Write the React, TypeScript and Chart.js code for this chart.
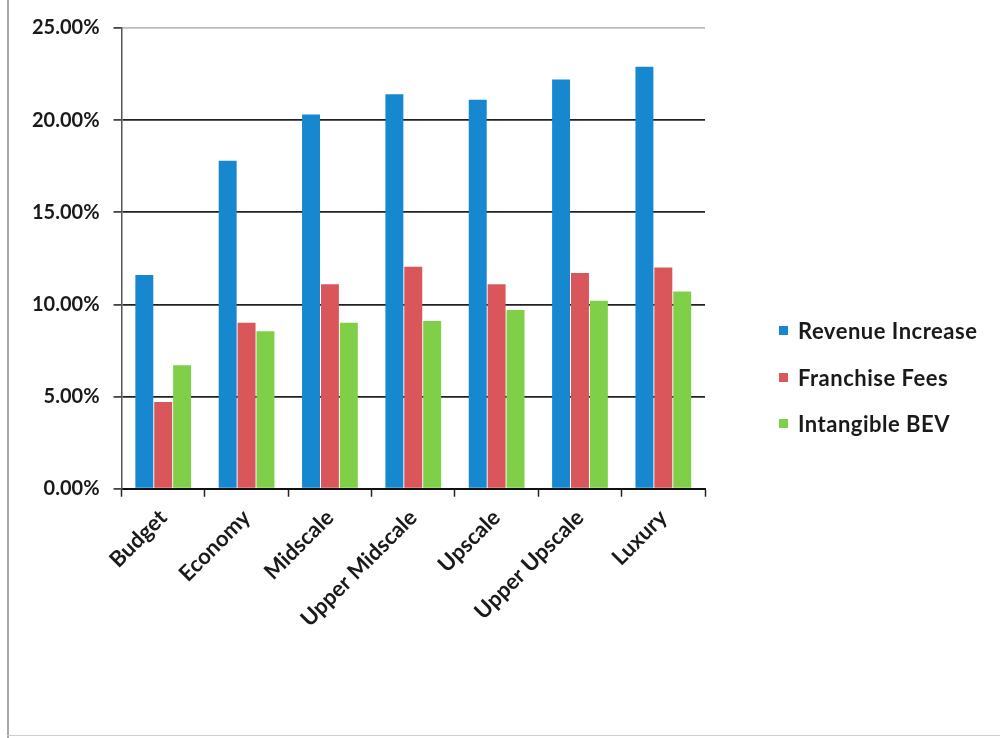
import React, { useEffect, useRef } from "react";
import { Chart, registerables } from "chart.js";

Chart.register(...registerables);

const categories = ["Budget", "Economy", "Midscale", "Upper Midscale", "Upscale", "Upper Upscale", "Luxury"];
const seriesNames = ["Revenue Increase", "Franchise Fees", "Intangible BEV"];
const revenueIncrease = [11.6, 17.8, 20.3, 21.4, 21.1, 22.2, 22.9];
const franchiseFees = [4.7, 9.0, 11.1, 12.05, 11.1, 11.7, 12.0];
const intangibleBEV = [6.7, 8.55, 9.0, 9.1, 9.7, 10.2, 10.7];
const seriesColors = ["#1787cf", "#d9565b", "#80cf48"];
const yTicks = [0, 5, 10, 15, 20, 25];

const FONT = "Lato, 'Open Sans', sans-serif";

export default function App() {
  const ref = useRef<HTMLCanvasElement | null>(null);

  useEffect(() => {
    document.body.style.margin = "0";
    const canvas = ref.current;
    if (!canvas) return;
    const values = [revenueIncrease, franchiseFees, intangibleBEV];
    const chart = new Chart(canvas, {
      type: "bar",
      data: {
        labels: categories,
        datasets: seriesNames.map((name, i) => ({
          label: name,
          data: values[i],
          backgroundColor: seriesColors[i],
          borderWidth: 0,
          categoryPercentage: 0.68,
          barPercentage: 0.95,
        })),
      },
      options: {
        animation: false,
        responsive: false,
        devicePixelRatio: 1,
        layout: { padding: { left: 18, right: 295, top: 28, bottom: 98 } },
        plugins: {
          legend: { display: false },
          tooltip: { enabled: false },
        },
        scales: {
          x: {
            offset: true,
            grid: {
              offset: true,
              drawOnChartArea: false,
              drawTicks: true,
              tickLength: 8,
              tickColor: "#222",
              tickWidth: 1.5,
            },
            border: { color: "#111", width: 2 },
            ticks: {
              minRotation: 45,
              maxRotation: 45,
              padding: 8,
              color: "#1a1a1a",
              font: { family: FONT, size: 22, weight: "bold" },
            },
          },
          y: {
            min: yTicks[0],
            max: yTicks[yTicks.length - 1],
            afterBuildTicks: (axis: any) => {
              axis.ticks = yTicks.map((v) => ({ value: v }));
            },
            grid: {
              color: (ctx: any) => (ctx.tick && ctx.tick.value === 25 ? "#bbbbbb" : "#222222"),
              lineWidth: 1.8,
              drawTicks: true,
              tickLength: 8,
              tickColor: "#444",
            },
            border: { color: "#555", width: 1.5 },
            ticks: {
              padding: 14,
              color: "#1a1a1a",
              font: { family: FONT, size: 20, weight: "bold" },
              callback: (v: any) => Number(v).toFixed(2) + "%",
            },
          },
        },
      },
    });
    return () => chart.destroy();
  }, []);

  return (
    <div style={{ position: "relative", width: 1000, height: 738, background: "#fff", overflow: "hidden" }}>
      <canvas ref={ref} width={1000} height={738} style={{ width: 1000, height: 738, display: "block" }} />
      <div style={{ position: "absolute", left: 7, top: 0, width: 2, height: 738, background: "#a8a8a8" }} />
      <div style={{ position: "absolute", left: 7, top: 735, width: 993, height: 1, background: "#cfcfcf" }} />
      <div style={{ position: "absolute", left: 779, top: 315, fontFamily: FONT, fontWeight: 700, fontSize: 22, letterSpacing: 0.5, color: "#1a1a1a" }}>
        {seriesNames.map((name, i) => (
          <div key={name} style={{ display: "flex", alignItems: "center", height: 31, marginBottom: 15.5 }}>
            <span style={{ display: "inline-block", width: 9, height: 9, background: seriesColors[i], marginRight: 10 }} />
            <span>{name}</span>
          </div>
        ))}
      </div>
    </div>
  );
}
